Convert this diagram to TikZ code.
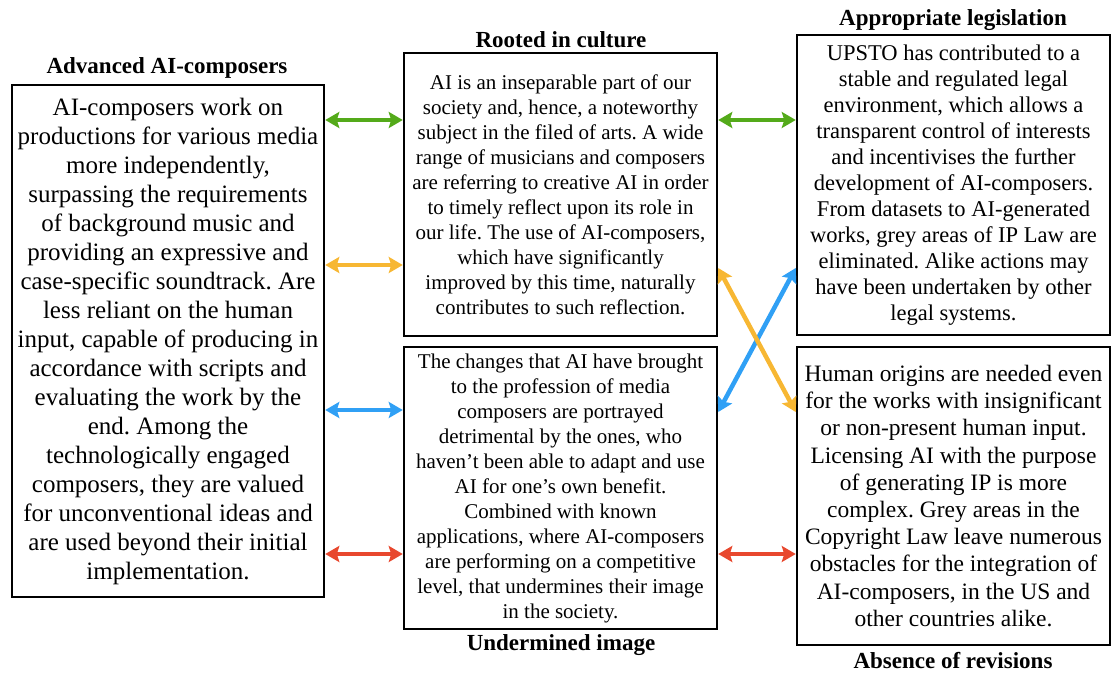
\documentclass[tikz,border=0pt]{standalone}
\usepackage{fontspec}
\setmainfont{Liberation Serif}
\usetikzlibrary{arrows.meta}
\definecolor{linkgreen}{RGB}{84,170,26}
\definecolor{linkyellow}{RGB}{247,183,51}
\definecolor{linkblue}{RGB}{48,160,245}
\definecolor{linkred}{RGB}{232,72,46}
\frenchspacing
\begin{document}
\begin{tikzpicture}[x=1pt,y=-1pt,
  panel/.style={draw=black, line width=2.5pt, fill=white, align=center, inner sep=0pt},
  heading/.style={font=\bfseries\fontsize{23}{27}\selectfont, inner sep=0pt},
  link/.style={line width=4.5pt,
    {Stealth[length=14pt,width=16pt,inset=2.5pt]}-{Stealth[length=14pt,width=16pt,inset=2.5pt]}}
]
\useasboundingbox (0,0) rectangle (1111,672);

% panels
\node[panel, minimum width=312pt, minimum height=512pt,
      font=\fontsize{25}{29}\selectfont] (adv) at (168,341) {%
AI-composers work on\\
productions for various media\\
more independently,\\
surpassing the requirements\\
of background music and\\
providing an expressive and\\
case-specific soundtrack. Are\\
less reliant on the human\\
input, capable of producing in\\
accordance with scripts and\\
evaluating the work by the\\
end. Among the\\
technologically engaged\\
composers, they are valued\\
for unconventional ideas and\\
are used beyond their initial\\
implementation.};

\node[panel, minimum width=313pt, minimum height=283pt,
      font=\fontsize{21}{25}\selectfont] (cult) at (560.5,194.5) {%
AI is an inseparable part of our\\
society and, hence, a noteworthy\\
subject in the filed of arts. A wide\\
range of musicians and composers\\
are referring to creative AI in order\\
to timely reflect upon its role in\\
our life. The use of AI-composers,\\
which have significantly\\
improved by this time, naturally\\
contributes to such reflection.};

\node[panel, minimum width=313pt, minimum height=282pt,
      font=\fontsize{21}{25}\selectfont] (undm) at (560.5,488) {%
The changes that AI have brought\\
to the profession of media\\
composers are portrayed\\
detrimental by the ones, who\\
haven’t been able to adapt and use\\
AI for one’s own benefit.\\
Combined with known\\
applications, where AI-composers\\
are performing on a competitive\\
level, that undermines their image\\
in the society.};

\node[panel, minimum width=313pt, minimum height=300pt,
      font=\fontsize{22.5}{26}\selectfont] (legal) at (953.5,185) {%
UPSTO has contributed to a\\
stable and regulated legal\\
environment, which allows a\\
transparent control of interests\\
and incentivises the further\\
development of AI-composers.\\
From datasets to AI-generated\\
works, grey areas of IP Law are\\
eliminated. Alike actions may\\
have been undertaken by other\\
legal systems.};

\node[panel, minimum width=313pt, minimum height=298pt,
      font=\fontsize{23.5}{27.2}\selectfont] (abs) at (953.5,496) {%
Human origins are needed even\\
for the works with insignificant\\
or non-present human input.\\
Licensing AI with the purpose\\
of generating IP is more\\
complex. Grey areas in the\\
Copyright Law leave numerous\\
obstacles for the integration of\\
AI-composers, in the US and\\
other countries alike.};

% headings
\node[heading] (advT) at (167,68) {Advanced AI-composers};
\node[heading] (cultT) at (561,40) {Rooted in culture};
\node[heading] (legalT) at (953,20) {Appropriate legislation};
\node[heading] (undmT) at (561,645) {Undermined image};
\node[heading] (absT) at (953,661) {Absence of revisions};

% levels of the connectors
\coordinate (yG) at (0,120);
\coordinate (yY) at (0,265);
\coordinate (yB) at (0,410);
\coordinate (yR) at (0,554);
\coordinate (yHi) at (0,268);
\coordinate (yLo) at (0,412);

% connectors
\draw[link, linkgreen] (adv.east |- yG) -- (cult.west |- yG);
\draw[link, linkgreen] (cult.east |- yG) -- (legal.west |- yG);
\draw[link, linkyellow] (adv.east |- yY) -- (cult.west |- yY);
\draw[link, linkblue] (adv.east |- yB) -- (undm.west |- yB);
\draw[link, linkred] (adv.east |- yR) -- (undm.west |- yR);
\draw[link, linkred] (undm.east |- yR) -- (abs.west |- yR);
\draw[link, linkblue] (undm.east |- yLo) -- (legal.west |- yHi);
\draw[link, linkyellow] (cult.east |- yHi) -- (abs.west |- yLo);
\end{tikzpicture}
\end{document}
